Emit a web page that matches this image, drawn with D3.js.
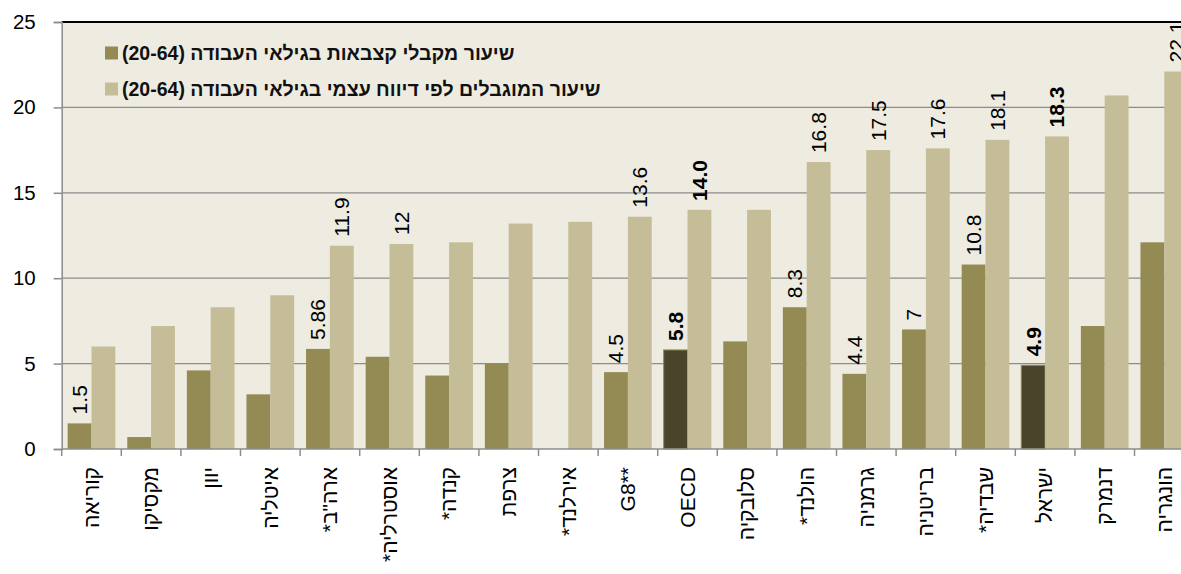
<!DOCTYPE html>
<html>
<head>
<meta charset="utf-8">
<script src="https://d3js.org/d3.v7.min.js"></script>
<style>
  body { margin: 0; background: #fff; }
  svg { display: block; font-family: Arial, "Liberation Sans", sans-serif; }
</style>
</head>
<body>
<div id="chart"></div>
<script>
const categories = ["קוריאה", "מקסיקו", "יוון", "איטליה", 'ארה"ב*', "אוסטרליה*", "קנדה*", "צרפת", "אירלנד*", "**G8", "OECD", "סלובקיה", "הולנד*", "גרמניה", "בריטניה", "שבדיה*", "ישראל", "דנמרק", "הונגריה"]
const benefits = [1.5, 0.7, 4.6, 3.2, 5.86, 5.4, 4.3, 5.0, null, 4.5, 5.8, 6.3, 8.3, 4.4, 7.0, 10.8, 4.9, 7.2, 12.1]
const disabled = [6.0, 7.2, 8.3, 9.0, 11.9, 12.0, 12.1, 13.2, 13.3, 13.6, 14.0, 14.0, 16.8, 17.5, 17.6, 18.1, 18.3, 20.7, 22.1]
const benefitLabels = ["1.5", "", "", "", "5.86", "", "", "", "", "4.5", "5.8", "", "8.3", "4.4", "7", "10.8", "4.9", "", ""]
const disabledLabels = ["", "", "", "", "11.9", "12", "", "", "", "13.6", "14.0", "", "16.8", "17.5", "17.6", "18.1", "18.3", "", "22.1"]
const highlighted = ["OECD", "ישראל"]
const yTicks = [0, 5, 10, 15, 20, 25]
const seriesNames = ["שיעור מקבלי קצבאות בגילאי העבודה (20-64)", "שיעור המוגבלים לפי דיווח עצמי בגילאי העבודה (20-64)"]

const width = 1181, height = 574
const left = 61.7, bandW = 59.6
const colors = {dark: "#948a54", light: "#c4bd97", hi: "#4a452a", bg: "#eeebe0", grid: "#8c8c8c"}

const svg = d3.select("#chart").append("svg")
    .attr("width", width)
    .attr("height", height)

const x = d3.scaleBand()
    .domain(categories)
    .range([left, left + bandW * categories.length])

const sub = d3.scaleBand()
    .domain(["b", "d"])
    .range([x.bandwidth() * 0.1, x.bandwidth() * 0.9])

const y = d3.scaleLinear()
    .domain([0, 25])
    .range([449, 22])

// plot background
svg.append("rect")
    .attr("x", left).attr("y", y(25))
    .attr("width", width - left).attr("height", y(0) - y(25))
    .attr("fill", colors.bg)

// grid
svg.append("g")
    .selectAll("line")
    .data(yTicks.filter(d => d > 0 && d < 25))
    .join("line")
        .attr("x1", left).attr("x2", width)
        .attr("y1", d => y(d)).attr("y2", d => y(d))
        .attr("stroke", colors.grid)
        .attr("stroke-width", 1.3)

// legend
const legend = svg.append("g")
seriesNames.forEach((name, i) => {
    const ly = 53 + i * 36
    legend.append("rect")
        .attr("x", 105).attr("y", ly - 6.5)
        .attr("width", 13).attr("height", 13)
        .attr("fill", i === 0 ? colors.dark : colors.light)
    legend.append("text")
        .attr("x", 122).attr("y", ly)
        .attr("dy", "0.35em")
        .attr("direction", "rtl")
        .attr("text-anchor", "end")
        .attr("font-size", 19.5)
        .attr("font-weight", "bold")
        .attr("fill", "#111")
        .text(name)
})

// bars
const groups = svg.append("g")
    .selectAll("g")
    .data(categories)
    .join("g")
        .attr("transform", d => `translate(${x(d)},0)`)

groups.append("rect")
    .filter((d, i) => benefits[i] != null)
    .attr("x", sub("b"))
    .attr("width", sub.bandwidth())
    .attr("y", d => y(benefits[categories.indexOf(d)]))
    .attr("height", d => y(0) - y(benefits[categories.indexOf(d)]))
    .attr("fill", d => highlighted.includes(d) ? colors.hi : colors.dark)
    .attr("stroke", d => highlighted.includes(d) ? colors.dark : "none")
    .attr("stroke-width", 1)

groups.append("rect")
    .attr("x", sub("d"))
    .attr("width", sub.bandwidth())
    .attr("y", (d, i) => y(disabled[i]))
    .attr("height", (d, i) => y(0) - y(disabled[i]))
    .attr("fill", colors.light)

// value labels
const addLabels = (vals, labels, key) => {
    groups.append("text")
        .filter((d, i) => labels[i] !== "")
        .attr("transform", d => {
            const i = categories.indexOf(d)
            return `translate(${sub(key) + sub.bandwidth() / 2},${y(vals[i]) - 9}) rotate(-90)`
        })
        .attr("dy", "0.35em")
        .attr("font-size", 21)
        .attr("font-weight", d => highlighted.includes(d) ? "bold" : "normal")
        .attr("fill", "#000")
        .text(d => labels[categories.indexOf(d)])
}
addLabels(benefits, benefitLabels, "b")
addLabels(disabled, disabledLabels, "d")

// top border
svg.append("line")
    .attr("x1", left).attr("x2", width)
    .attr("y1", y(25)).attr("y2", y(25))
    .attr("stroke", "#000").attr("stroke-width", 2)

// y axis
const yAxis = svg.append("g")
    .attr("transform", `translate(${left},0)`)
    .call(d3.axisLeft(y).tickValues(yTicks).tickSize(8).tickPadding(18))
yAxis.selectAll("path, line").attr("stroke", colors.grid).attr("stroke-width", 1.5)
yAxis.selectAll("text").attr("font-size", 20.5).attr("fill", "#000")
    .attr("font-family", "Arial, 'Liberation Sans', sans-serif")

// x axis
const xAxis = svg.append("g")
    .attr("transform", `translate(0,${y(0)})`)
xAxis.append("line")
    .attr("x1", left).attr("x2", width)
    .attr("stroke", colors.grid).attr("stroke-width", 1.5)
xAxis.selectAll("line.tick")
    .data(categories)
    .join("line")
        .attr("class", "tick")
        .attr("x1", d => x(d)).attr("x2", d => x(d))
        .attr("y1", 0).attr("y2", 7)
        .attr("stroke", colors.grid).attr("stroke-width", 1.5)
xAxis.selectAll("text")
    .data(categories)
    .join("text")
        .attr("transform", d => `translate(${x(d) + x.bandwidth() / 2},18) rotate(-90)`)
        .attr("direction", "rtl")
        .attr("text-anchor", "start")
        .attr("dy", "0.35em")
        .attr("font-size", 21)
        .attr("fill", "#000")
        .text(d => d)
</script>
</body>
</html>
